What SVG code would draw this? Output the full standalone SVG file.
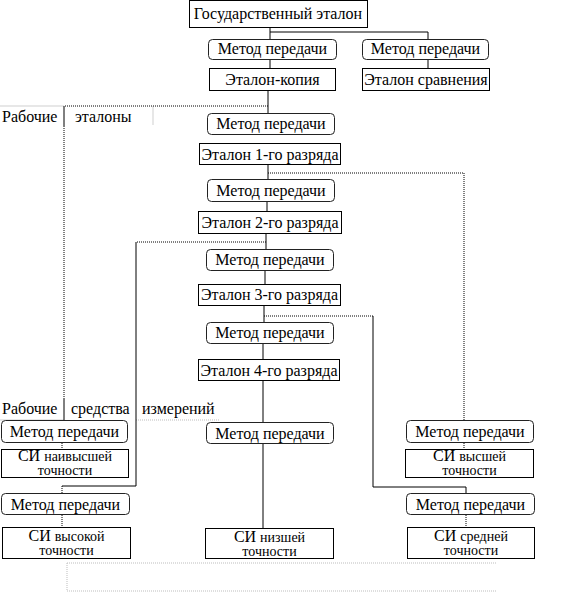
<svg xmlns="http://www.w3.org/2000/svg" width="566" height="592" viewBox="0 0 566 592">
<style>
text{font-family:"Liberation Serif","Times New Roman",serif;font-size:16px;fill:#000;text-anchor:middle}
.lbl{text-anchor:start}
.si{font-size:16px}
.sm{font-size:14px}
.box{fill:#fff;stroke:#000;stroke-width:1}
.mt{fill:#fff;stroke:#222;stroke-width:1}
.c{fill:none;stroke:#000;stroke-width:1}
.d{fill:none;stroke:#000;stroke-width:1;stroke-dasharray:1 1}
.g{fill:none;stroke:#cfcfcf;stroke-width:1}
.gd{fill:none;stroke:#bdbdbd;stroke-width:1;stroke-dasharray:1 1}
</style>
<rect width="566" height="592" fill="#fff"/>
<g id="guides">
<path class="g" d="M0,106H64M153,106V125M0,420H64"/>
<path class="gd" d="M136,420H220M67,563H497M67,563V591M67,591H497"/>
<text class="lbl" x="2" y="122">Рабочие</text>
<text class="lbl" x="75" y="122">эталоны</text>
<text class="lbl" x="2" y="414">Рабочие</text>
<text class="lbl" x="71" y="414">средства</text>
<text class="lbl" x="142" y="414">измерений</text>
</g>
<g id="connectors">
<path class="c" d="M270,27V39.5M270,32H428V39.5M270,59V68M428,59V68M268,91V113"/>
<path class="d" d="M268,106H64"/>
<path class="c" d="M64,106V126M64,398V420"/>
<path class="d" d="M64,126V398"/>
<path class="c" d="M268,165V180"/>
<path class="d" d="M268,173H464V420M464,443V449"/>
<path class="c" d="M267,201V212M266,233V249"/>
<path class="d" d="M266,242H136"/>
<path class="c" d="M136,242V486H62"/>
<path class="d" d="M62,486V493M62,515V527M62,443V449"/>
<path class="c" d="M265,271V284M264,306V322"/>
<path class="d" d="M264,316H373"/>
<path class="c" d="M373,316V487H466V493"/>
<path class="d" d="M466,515V527"/>
<path class="c" d="M263,344V359M263,381V422M263,444V528"/>
</g>
<g id="n-state"><rect class="box" x="189.5" y="0.5" width="178" height="27"/><text x="278" y="19">Государственный эталон</text></g>
<g id="n-m1"><rect class="mt" x="208.5" y="39.5" width="128" height="20" rx="4"/><text x="272.5" y="54">Метод передачи</text></g>
<g id="n-m1r"><rect class="mt" x="362.5" y="39.5" width="126" height="20" rx="4"/><text x="425.5" y="54">Метод передачи</text></g>
<g id="n-copy"><rect class="box" x="209.5" y="68.5" width="126" height="22"/><text x="272.5" y="85">Эталон-копия</text></g>
<g id="n-compare"><rect class="box" x="362.5" y="68.5" width="127" height="22"/><text x="426" y="85">Эталон сравнения</text></g>
<g id="n-m2"><rect class="mt" x="207.5" y="113.5" width="127" height="21" rx="4"/><text x="271" y="129">Метод передачи</text></g>
<g id="n-e1"><rect class="box" x="199.5" y="143.5" width="141" height="21"/><text x="270" y="160">Эталон 1-го разряда</text></g>
<g id="n-m3"><rect class="mt" x="207.5" y="179.5" width="127" height="22" rx="4"/><text x="271" y="196">Метод передачи</text></g>
<g id="n-e2"><rect class="box" x="198.5" y="211.5" width="143" height="22"/><text x="270" y="228">Эталон 2-го разряда</text></g>
<g id="n-m4"><rect class="mt" x="206.5" y="249.5" width="127" height="21" rx="4"/><text x="270" y="265">Метод передачи</text></g>
<g id="n-e3"><rect class="box" x="198.5" y="284.5" width="142" height="21"/><text x="269.5" y="300">Эталон 3-го разряда</text></g>
<g id="n-m5"><rect class="mt" x="206.5" y="322.5" width="127" height="21" rx="4"/><text x="270" y="338">Метод передачи</text></g>
<g id="n-e4"><rect class="box" x="198.5" y="359.5" width="141" height="21"/><text x="269" y="376">Эталон 4-го разряда</text></g>
<g id="n-m6"><rect class="mt" x="1.5" y="420.5" width="126" height="22" rx="4"/><text x="64.5" y="437">Метод передачи</text></g>
<g id="n-si-top"><rect class="box" x="1.5" y="449.5" width="127" height="28"/><text class="si" x="65" y="461">СИ  <tspan class="sm">наивысшей</tspan></text><text class="sm" x="65" y="475">точности</text></g>
<g id="n-m7"><rect class="mt" x="206.5" y="422.5" width="127" height="21" rx="4"/><text x="270" y="439">Метод передачи</text></g>
<g id="n-m8"><rect class="mt" x="406.5" y="420.5" width="127" height="22" rx="4"/><text x="470" y="437">Метод передачи</text></g>
<g id="n-si-high2"><rect class="box" x="405.5" y="449.5" width="128" height="28"/><text class="si" x="469.5" y="461">СИ  <tspan class="sm">высшей</tspan></text><text class="sm" x="469.5" y="475">точности</text></g>
<g id="n-m9"><rect class="mt" x="1.5" y="493.5" width="128" height="21" rx="4"/><text x="65.5" y="510">Метод передачи</text></g>
<g id="n-si-high"><rect class="box" x="2.5" y="527.5" width="128" height="31"/><text class="si" x="66.5" y="541">СИ  <tspan class="sm">высокой</tspan></text><text class="sm" x="66.5" y="555">точности</text></g>
<g id="n-si-low"><rect class="box" x="205.5" y="528.5" width="128" height="30"/><text class="si" x="269.5" y="542">СИ  <tspan class="sm">низшей</tspan></text><text class="sm" x="269.5" y="556">точности</text></g>
<g id="n-m10"><rect class="mt" x="406.5" y="493.5" width="128" height="21" rx="4"/><text x="470.5" y="510">Метод передачи</text></g>
<g id="n-si-mid"><rect class="box" x="407.5" y="527.5" width="127" height="31"/><text class="si" x="471" y="541">СИ  <tspan class="sm">средней</tspan></text><text class="sm" x="471" y="555">точности</text></g>
</svg>
